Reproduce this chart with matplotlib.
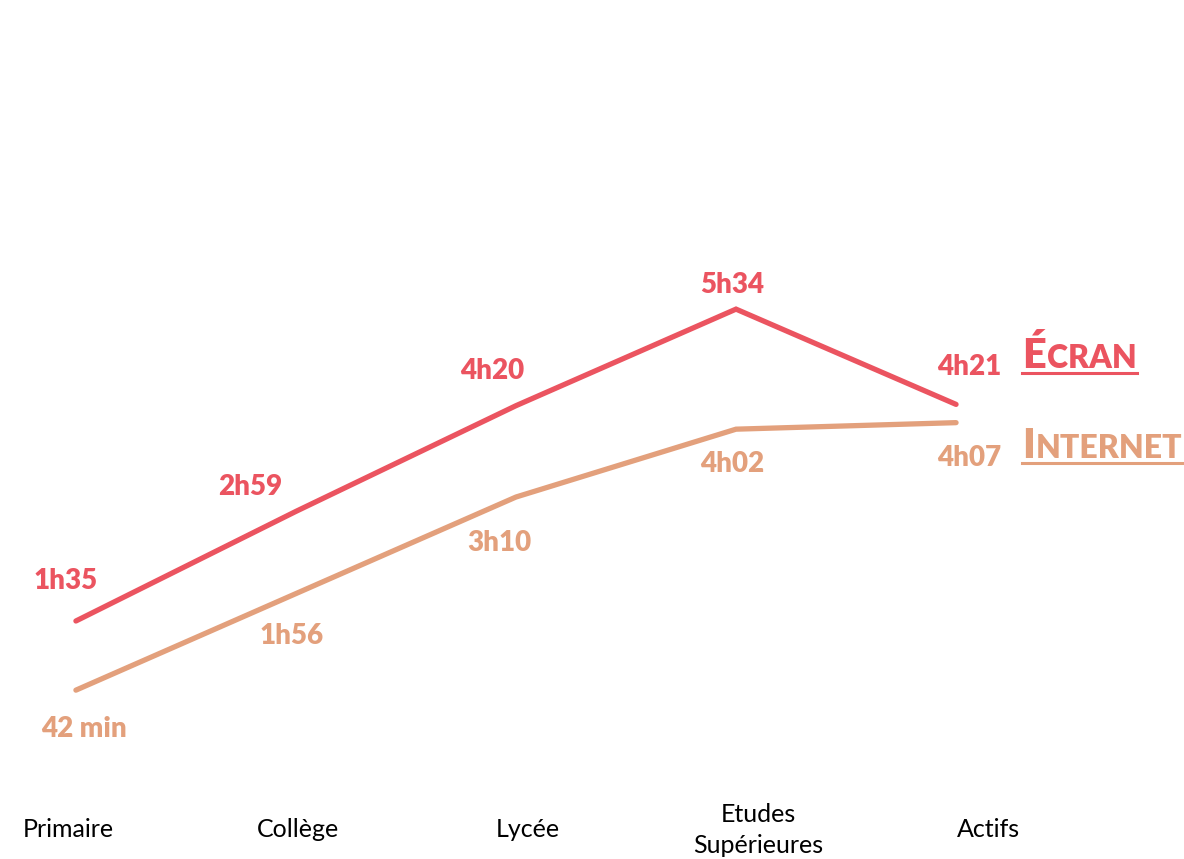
import matplotlib.pyplot as plt
import matplotlib.transforms as mtransforms

plt.rcParams['font.family'] = ['Lato', 'DejaVu Sans']

categories = ['Primaire', 'Collège', 'Lycée', 'Etudes\nSupérieures', 'Actifs']
# temps quotidien en minutes
ecran_min = [95, 179, 260, 334, 261]
internet_min = [42, 116, 190, 242, 247]
ecran_labels = ['1h35', '2h59', '4h20', '5h34', '4h21']
internet_labels = ['42 min', '1h56', '3h10', '4h02', '4h07']

red = '#EB5460'
orange = '#E3A07C'

fig = plt.figure(figsize=(11.84, 8.59), dpi=100)
ax = fig.add_axes([0, 0, 1, 1])
ax.set_xlim(-0.345, 5.036)
ax.set_ylim(-87.4, 570.9)
ax.axis('off')

x = list(range(len(categories)))
ax.plot(x, ecran_min, color=red, lw=3.8, solid_capstyle='round', solid_joinstyle='miter')
ax.plot(x, internet_min, color=orange, lw=3.8, solid_capstyle='round', solid_joinstyle='miter')

# offsets des étiquettes (pixels)
ecran_off = [(-10, 40), (-46, 24), (-24, 35), (-4, 24), (13, 37)]
internet_off = [(8, -39), (-4, -42), (-17, -46), (-4, -35), (13, -35)]

for xi, v, lab, off in zip(x, ecran_min, ecran_labels, ecran_off):
    ax.annotate(lab, (xi, v), xytext=off, textcoords='offset pixels',
                ha='center', va='center', fontsize=20, fontweight='heavy', color=red)
for xi, v, lab, off in zip(x, internet_min, internet_labels, internet_off):
    ax.annotate(lab, (xi, v), xytext=off, textcoords='offset pixels',
                ha='center', va='center', fontsize=20, fontweight='heavy', color=orange)

# catégories en bas
trans = mtransforms.blended_transform_factory(ax.transData, ax.transAxes)
for i, cat in enumerate(categories):
    ax.text(i * 230 / 220 - 8 / 220, 0.034, cat, transform=trans, ha='center', va='center',
            fontsize=18, color='black', linespacing=1.45)

# légendes en petites capitales soulignées
def small_caps(first, rest, y_frac, color):
    fig.canvas.draw()
    r = fig.canvas.get_renderer()
    t1 = fig.text(1022 / 1184, y_frac, first, fontsize=30, fontweight='heavy', color=color,
                  ha='left', va='baseline')
    bb1 = t1.get_window_extent(renderer=r)
    t2 = fig.text(bb1.x1 / 1184 + 0.001, y_frac, rest, fontsize=23, fontweight='heavy', color=color,
                  ha='left', va='baseline')
    bb2 = t2.get_window_extent(renderer=r)
    uy = y_frac - 5 / 859
    fig.add_artist(plt.Line2D([1022 / 1184, bb2.x1 / 1184], [uy, uy], color=color, lw=2.2,
                              transform=fig.transFigure))

small_caps('É', 'CRAN', 0.5716, red)
small_caps('I', 'NTERNET', 0.4668, orange)

fig.savefig('out.png', dpi=100)
